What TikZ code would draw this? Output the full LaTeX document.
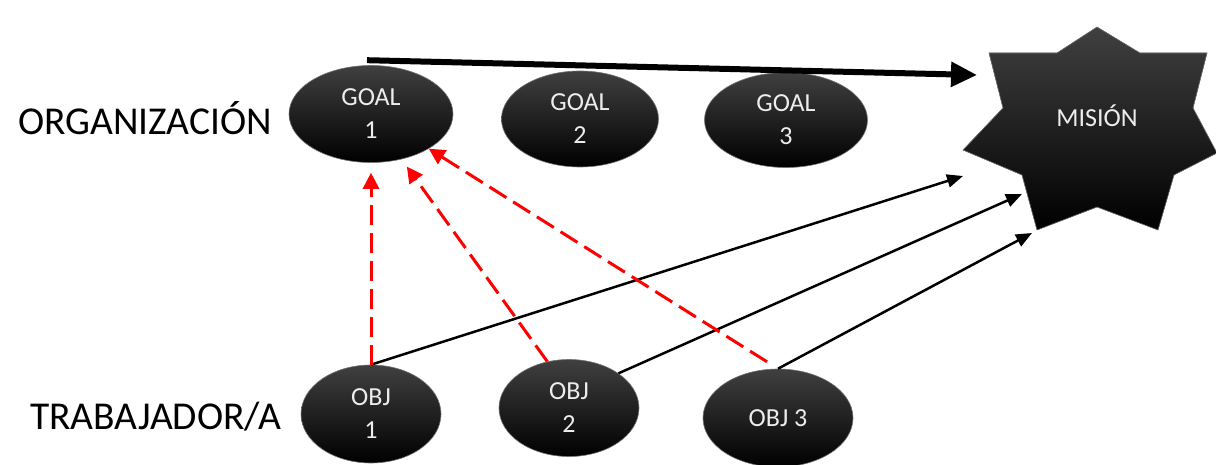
\documentclass[tikz,border=0pt]{standalone}
\usepackage{fontspec}
\setmainfont{Carlito}
\usetikzlibrary{shapes.geometric,arrows.meta}
\tikzset{
  blob/.style={ellipse, top color=black!75, middle color=black, bottom color=black,
    draw=black!55, line width=0.6pt, text=white!93!black, align=center,
    font=\fontsize{26}{33}\selectfont, inner sep=0pt},
  biglabel/.style={font=\fontsize{39.5}{44}\selectfont, anchor=base west, inner sep=0pt},
  mainlink/.style={line width=6pt, -{Triangle[length=26pt,width=24pt]}},
  toplink/.style={line width=2.5pt, -{Triangle[length=16pt,width=13pt]}},
  backlink/.style={red, line width=3pt, dash pattern=on 20pt off 8pt,
    -{Triangle[length=16pt,width=16pt]}},
}
\begin{document}
\begin{tikzpicture}[x=1pt,y=-1pt]
\useasboundingbox (0,0) rectangle (1216,465);
% levels
\node[biglabel] (org) at (18,135) {ORGANIZACIÓN};
\node[biglabel] (trab) at (30,429) {TRABAJADOR/A};
% goals
\node[blob, minimum width=164pt, minimum height=97pt] (goal1) at (371,114) {GOAL\\1};
\node[blob, minimum width=157pt, minimum height=96pt] (goal2) at (580,119) {GOAL\\2};
\node[blob, minimum width=163pt, minimum height=95pt] (goal3) at (786,120) {GOAL\\3};
% objectives
\node[blob, minimum width=140pt, minimum height=98pt] (obj1) at (371,414) {OBJ\\1};
\node[blob, minimum width=140pt, minimum height=97pt] (obj2) at (569,408) {OBJ\\2};
\node[blob, minimum width=150pt, minimum height=98pt] (obj3) at (778,418) {OBJ 3};
% mission star
\fill[top color=black!75, middle color=black, bottom color=black, draw=black!55, line width=0.6pt]
  (1097,27) -- (1140,53) -- (1207,53) -- (1193,108) -- (1217,153) -- (1174,175)
  -- (1158,230) -- (1097,207) -- (1037,230) -- (1022,175) -- (963,150)
  -- (1003,108) -- (989,53) -- (1057,53) -- cycle;
\node[text=white!93!black, font=\fontsize{26}{30}\selectfont] (mision) at (1097,116) {MISIÓN};
\coordinate (m1) at (977,75);
\coordinate (m2) at (963,176);
\coordinate (m3) at (1022,194);
\coordinate (m4) at (1032,233);
% links
\draw[mainlink] ([shift={(-4,-5)}]goal1.north) -- (m1);
\draw[toplink] (obj1.north) -- (m2);
\draw[toplink] (obj2.35) -- (m3);
\draw[toplink] (obj3.north) -- (m4);
\draw[backlink, shorten >=10pt] (obj1.north) -- (goal1.south);
\draw[backlink, shorten >=9pt] (obj2.115) -- (goal1.-56);
\draw[backlink, shorten <=13pt] (obj3.north) -- (goal1.-31);
\end{tikzpicture}
\end{document}
